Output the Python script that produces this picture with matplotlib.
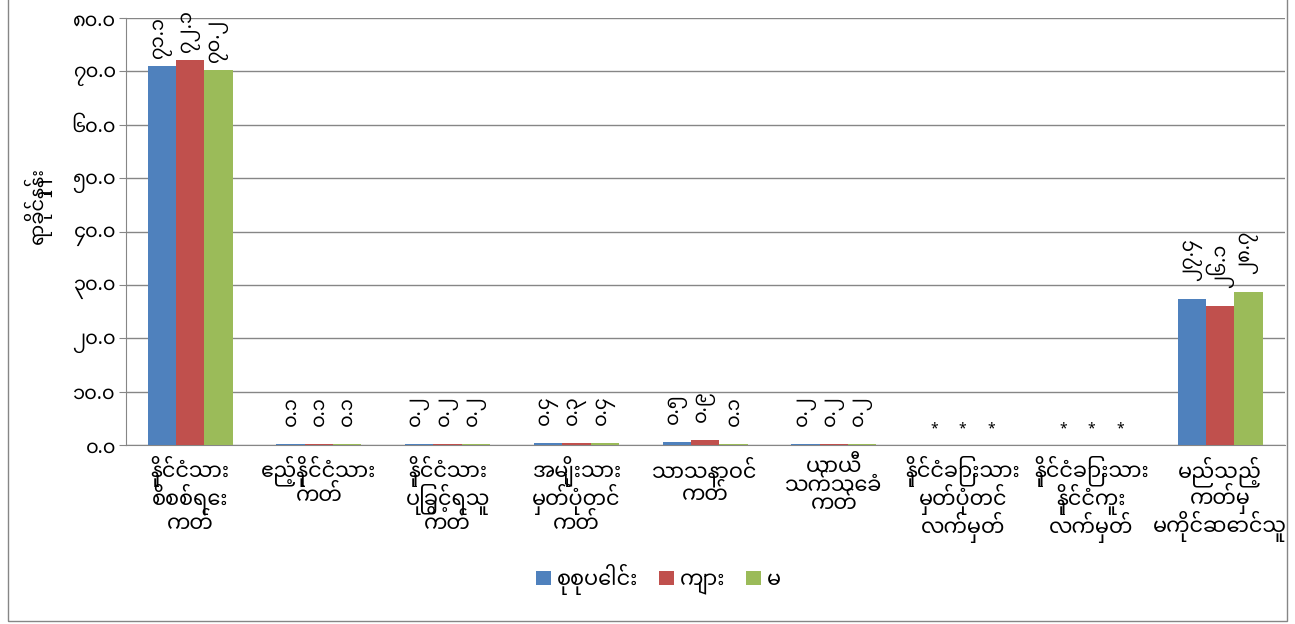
import numpy as np
import matplotlib
matplotlib.use('Agg')
import matplotlib.pyplot as plt
from matplotlib import font_manager
from matplotlib.ft2font import FT2Font

# find a font that has Myanmar glyphs, prefer the well known ones
found = []
for f in font_manager.fontManager.ttflist:
    try:
        if 0x1000 in FT2Font(f.fname).get_charmap():
            found.append(f.name)
    except Exception:
        pass
mm_font = None
for pref in ['Noto Sans Myanmar', 'Padauk', 'Myanmar Text', 'Pyidaungsu', 'Noto Serif Myanmar']:
    if pref in found:
        mm_font = pref
        break
if mm_font is None and found:
    mm_font = found[0]
fams = ([mm_font] if mm_font else []) + ['DejaVu Sans']
plt.rcParams['font.family'] = fams

categories = ["နိုင်ငံသား\nစိစစ်ရေး\nကတ်", "ဧည့်နိုင်ငံသား\nကတ်", "နိုင်ငံသား\nပြုခွင့်ရသူ\nကတ်",
              "အမျိုးသား\nမှတ်ပုံတင်\nကတ်", "သာသနာဝင်\nကတ်", "ယာယီ\nသက်သေခံ\nကတ်",
              "နိုင်ငံခြားသား\nမှတ်ပုံတင်\nလက်မှတ်", "နိုင်ငံခြားသား\nနိုင်ငံကူး\nလက်မှတ်",
              "မည်သည့်\nကတ်မှ\nမကိုင်ဆောင်သူ"]
series = ["စုစုပေါင်း", "ကျား", "မ"]
total = [71.1, 0.1, 0.2, 0.4, 0.5, 0.2, np.nan, np.nan, 27.4]
male = [72.1, 0.1, 0.2, 0.3, 0.9, 0.2, np.nan, np.nan, 26.1]
female = [70.2, 0.1, 0.2, 0.4, 0.1, 0.2, np.nan, np.nan, 28.7]
colors = ['#4F81BD', '#C0504D', '#9BBB59']

mm_digits = str.maketrans('0123456789', '၀၁၂၃၄၅၆၇၈၉')
def mm(v):
    return ('%.1f' % v).translate(mm_digits)

fig = plt.figure(figsize=(12.95, 6.24), dpi=100)
ax = fig.add_axes([0.097, 0.287, 0.895, 0.684])

x = np.arange(len(categories))
w = 0.22
for i, (vals, c, name) in enumerate(zip([total, male, female], colors, series)):
    pos = x + (i - 1) * w
    h = np.nan_to_num(np.array(vals))
    ax.bar(pos, h, w, color=c, label=name, zorder=3)
    for p, v in zip(pos, vals):
        if np.isnan(v):
            ax.annotate('*', (p, 0), xytext=(0, 6), textcoords='offset points',
                        ha='center', va='bottom', fontsize=10, color='black')
        else:
            off = 13 if v < 60 else 5  # tall bars: label squeezed under the top
            ax.annotate(mm(v), (p, v), xytext=(0, off), textcoords='offset points',
                        rotation=90, ha='center', va='bottom', fontsize=14, color='black')

ax.set_ylim(0, 80)
ax.set_xlim(-0.5, len(categories) - 0.5)
ax.set_yticks(np.arange(0, 81, 10))
ax.set_yticklabels([mm(v) for v in np.arange(0, 81, 10)], fontsize=14)
ax.set_xticks(x)
ax.set_xticklabels(categories, fontsize=15, linespacing=0.85)
ax.tick_params(axis='x', length=0, pad=8)
ax.tick_params(axis='y', length=5, color='#868686', pad=2)
ax.yaxis.grid(True, color='#868686', linewidth=1, zorder=0)
for s in ['top', 'right']:
    ax.spines[s].set_visible(False)
for s in ['left', 'bottom']:
    ax.spines[s].set_color('#868686')
ax.set_ylabel('ရာခိုင်နှုန်း', fontsize=14)
ax.yaxis.set_label_coords(-0.064, 0.56)

ax.legend(loc='center', bbox_to_anchor=(0.46, -0.316), ncol=3, frameon=False,
          fontsize=15, handlelength=0.7, handleheight=0.7, columnspacing=1.0, handletextpad=0.3)

# chart border
fig.patches.append(plt.Rectangle((0.006, 0.005), 0.988, 1.2, transform=fig.transFigure,
                                 fill=False, edgecolor='#868686', linewidth=1))

fig.savefig('out.png', dpi=100)
